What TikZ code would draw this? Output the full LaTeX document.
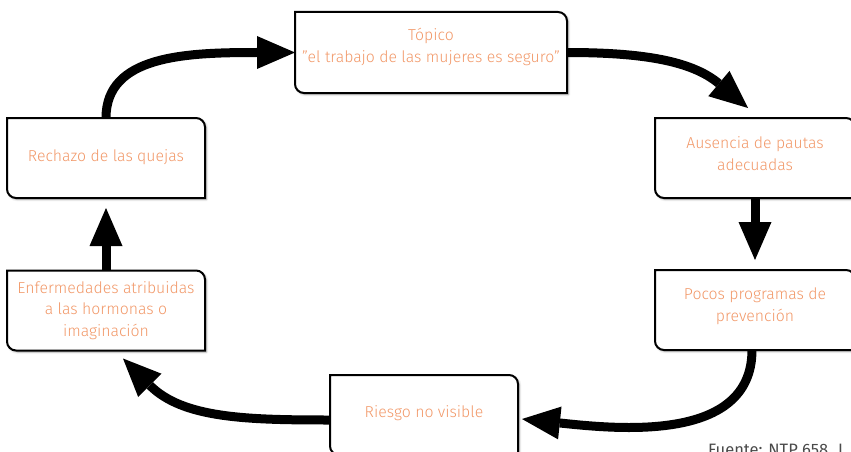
\documentclass[tikz,border=0pt]{standalone}
\usepackage{fontspec}
\setmainfont{Fira Sans Light}
\newfontfamily\fuentefont{Fira Sans}
\usetikzlibrary{arrows.meta,shadows.blur}
\definecolor{txt}{HTML}{F29868}
\definecolor{src}{HTML}{4A4A4A}
\pgfdeclarelayer{back}
\pgfdeclarelayer{mid}
\pgfsetlayers{back,mid,main}
\newcommand\cornerbox[1]{%
  \path[boxline] (#1.north west) -- ([xshift=-9pt]#1.north east)
    arc[start angle=90,end angle=0,radius=9pt] -- (#1.south east)
    -- ([xshift=9pt]#1.south west)
    arc[start angle=270,end angle=180,radius=9pt] -- cycle;}
\begin{document}
\begin{tikzpicture}[x=1pt,y=1pt,
  boxnode/.style={minimum width=#1, inner sep=0pt, outer sep=0pt},
  lbl/.style={text=txt, align=center, font=\fontsize{15.8}{21.5}\selectfont, inner sep=0pt},
  boxline/.style={draw=black, line width=2pt, fill=white,
    blur shadow={shadow blur steps=6, shadow xshift=1.5pt, shadow yshift=-1.5pt, shadow opacity=35}},
  flow/.style={draw=black, line width=9pt,
    -{Triangle[length=38pt,width=33pt,line width=0pt,fill=black]}},
]
\useasboundingbox (0,0) rectangle (851,-452);
% boxes
\node[boxnode=272pt, minimum height=81pt] (top) at (431,-52.5) {};
\node[boxnode=198pt, minimum height=80pt] (rech) at (106,-158) {};
\node[boxnode=198pt, minimum height=80pt] (enf) at (106,-310.5) {};
\node[boxnode=200pt, minimum height=80pt] (aus) at (755,-158) {};
\node[boxnode=200pt, minimum height=80pt] (poc) at (755,-310) {};
\node[boxnode=188pt, minimum height=80pt] (rie) at (424,-415) {};
% texts
\node[lbl] (ttop) at (431,-47) {Tópico\\"el trabajo de las mujeres es seguro"};
\node[lbl] (trech) at (106,-157.5) {Rechazo de las quejas};
\node[lbl] (tenf) at (106,-310.5) {Enfermedades atribuidas\\a las hormonas o\\imaginación};
\node[lbl] (taus) at (755,-153.5) {Ausencia de pautas\\adecuadas};
\node[lbl] (tpoc) at (755,-306) {Pocos programas de\\prevención};
\node[lbl] (trie) at (424,-413) {Riesgo no visible};
\node[anchor=base west, inner sep=0pt, text=src, font=\fuentefont\fontsize{16.5}{18}\selectfont] (src) at (708,-455) {Fuente: NTP 658. I};
\begin{pgfonlayer}{mid}
  \cornerbox{top}\cornerbox{rech}\cornerbox{enf}\cornerbox{aus}\cornerbox{poc}\cornerbox{rie}
\end{pgfonlayer}
\begin{pgfonlayer}{back}
  \draw[flow] (rech.north) to[out=90,in=180,out looseness=0.8,in looseness=1.4] (top.west);
  \draw[flow] (top.east) to[out=0,in=140] ([shift={(-7,10)}]aus.north);
  \draw[flow, shorten >=10pt] (aus.south) -- (poc.north);
  \draw[flow] ([xshift=-3]poc.south) to[out=-90,in=-6] ([shift={(4,-4)}]rie.east);
  \draw[flow] ([yshift=-5]rie.west) to[out=180,in=-45] ([shift={(17,-8)}]enf.south);
  \draw[flow, shorten >=10pt] (enf.north) -- (rech.south);
\end{pgfonlayer}
\end{tikzpicture}
\end{document}
